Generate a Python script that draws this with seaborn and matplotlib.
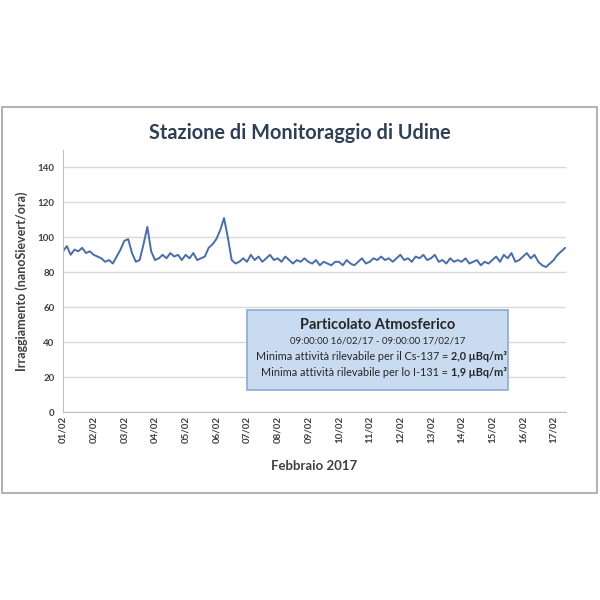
import pandas as pd
import matplotlib.pyplot as plt
import matplotlib.dates as mdates
from matplotlib.patches import Rectangle
import seaborn as sns

# ---- data (one value every 3 hours) ----
start = "2017-02-01 00:00"
dose_rate = [
    92, 95, 90, 93, 92, 94, 91, 92,       # 01/02
    90, 89, 88, 86, 87, 85, 89, 93,       # 02/02
    98, 99, 91, 86, 87, 96, 106, 92,      # 03/02
    87, 88, 90, 88, 91, 89, 90, 87,       # 04/02
    90, 88, 91, 87, 88, 89, 94, 96,       # 05/02
    99, 104, 111, 100, 87, 85, 86, 88,    # 06/02
    86, 90, 87, 89, 86, 88, 90, 87,       # 07/02
    88, 86, 89, 87, 85, 87, 86, 88,       # 08/02
    86, 85, 87, 84, 86, 85, 84, 86,       # 09/02
    86, 84, 87, 85, 84, 86, 88, 85,       # 10/02
    86, 88, 87, 89, 87, 88, 86, 88,       # 11/02
    90, 87, 88, 86, 89, 88, 90, 87,       # 12/02
    88, 90, 86, 87, 85, 88, 86, 87,       # 13/02
    86, 88, 85, 86, 87, 84, 86, 85,       # 14/02
    87, 89, 86, 90, 88, 91, 86, 87,       # 15/02
    89, 91, 88, 90, 86, 84, 83, 85,       # 16/02
    87, 90, 92, 94,                       # 17/02
]
y_ticks = [0, 20, 40, 60, 80, 100, 120, 140]

title = "Stazione di Monitoraggio di Udine"
x_label = "Febbraio 2017"
y_label = "Irraggiamento (nanoSievert/ora)"
box_title = "Particolato Atmosferico"
box_period = "09:00:00 16/02/17 - 09:00:00 17/02/17"
box_cs = ("Minima attività rilevabile per il Cs-137 = ", "2,0 µBq/m³")
box_i = ("Minima attività rilevabile per lo I-131 = ", "1,9 µBq/m³")

df = pd.DataFrame({
    "time": pd.date_range(start, periods=len(dose_rate), freq="3h"),
    "dose": dose_rate,
})

# ---- style ----
sns.set_style("white")
plt.rcParams["font.family"] = ["Lato", "DejaVu Sans"]
txt = "#404040"

fig = plt.figure(figsize=(6, 6), dpi=100)
ax = fig.add_axes([0.105, 0.3133, 0.838, 0.4367])

# chart frame
fig.patches.append(Rectangle((2 / 600, 1 - 493 / 600), 595 / 600, 386 / 600,
                             transform=fig.transFigure, fill=False,
                             edgecolor="#a6a6a6", linewidth=1.2))

sns.lineplot(data=df, x="time", y="dose", ax=ax, color="#4a6da8", linewidth=1.4)

ax.set_ylim(0, 150)
ax.set_yticks(y_ticks)
ax.set_xlim(pd.Timestamp("2017-02-01 00:00"), pd.Timestamp("2017-02-17 09:30"))
ax.xaxis.set_major_locator(mdates.DayLocator())
ax.xaxis.set_major_formatter(mdates.DateFormatter("%d/%m"))
ax.grid(axis="y", color="#d9d9d9", linewidth=1)
ax.set_axisbelow(True)

for side in ["top", "right"]:
    ax.spines[side].set_visible(False)
ax.spines["left"].set_color("#bfbfbf")
ax.spines["bottom"].set_color("#bfbfbf")

ax.tick_params(axis="y", labelsize=7, colors=txt, length=0, pad=6)
ax.tick_params(axis="x", labelsize=7, colors=txt, length=0, pad=3, labelrotation=90)
for lab in ax.get_xticklabels() + ax.get_yticklabels():
    lab.set_fontweight("bold")

ax.set_xlabel(x_label, fontsize=9.5, fontweight="bold", color=txt, labelpad=12)
ax.set_ylabel(y_label, fontsize=9, fontweight="bold", color=txt, labelpad=7)
fig.text(0.5, 1 - 133 / 600, title, ha="center", va="center",
         fontsize=14.3, fontweight="bold", color="#2f3f55")

# info box
fig.patches.append(Rectangle((247 / 600, 1 - 390 / 600), 261 / 600, 80 / 600,
                             transform=fig.transFigure, facecolor="#c9dbf0",
                             edgecolor="#8eaad0", linewidth=1.2))
cx = 378 / 600
fig.text(cx, 1 - 325 / 600, box_title, ha="center", va="center",
         fontsize=10.5, fontweight="bold", color="#262626")
fig.text(cx, 1 - 341 / 600, box_period, ha="center", va="center",
         fontsize=7, color="#262626")
split = 451 / 600
for yy, (plain, strong) in [(356, box_cs), (372, box_i)]:
    fig.text(split, 1 - yy / 600, plain, ha="right", va="center",
             fontsize=7.8, color="#262626")
    fig.text(split, 1 - yy / 600, strong, ha="left", va="center",
             fontsize=7.8, fontweight="bold", color="#262626")

fig.savefig("out.png", dpi=100)
